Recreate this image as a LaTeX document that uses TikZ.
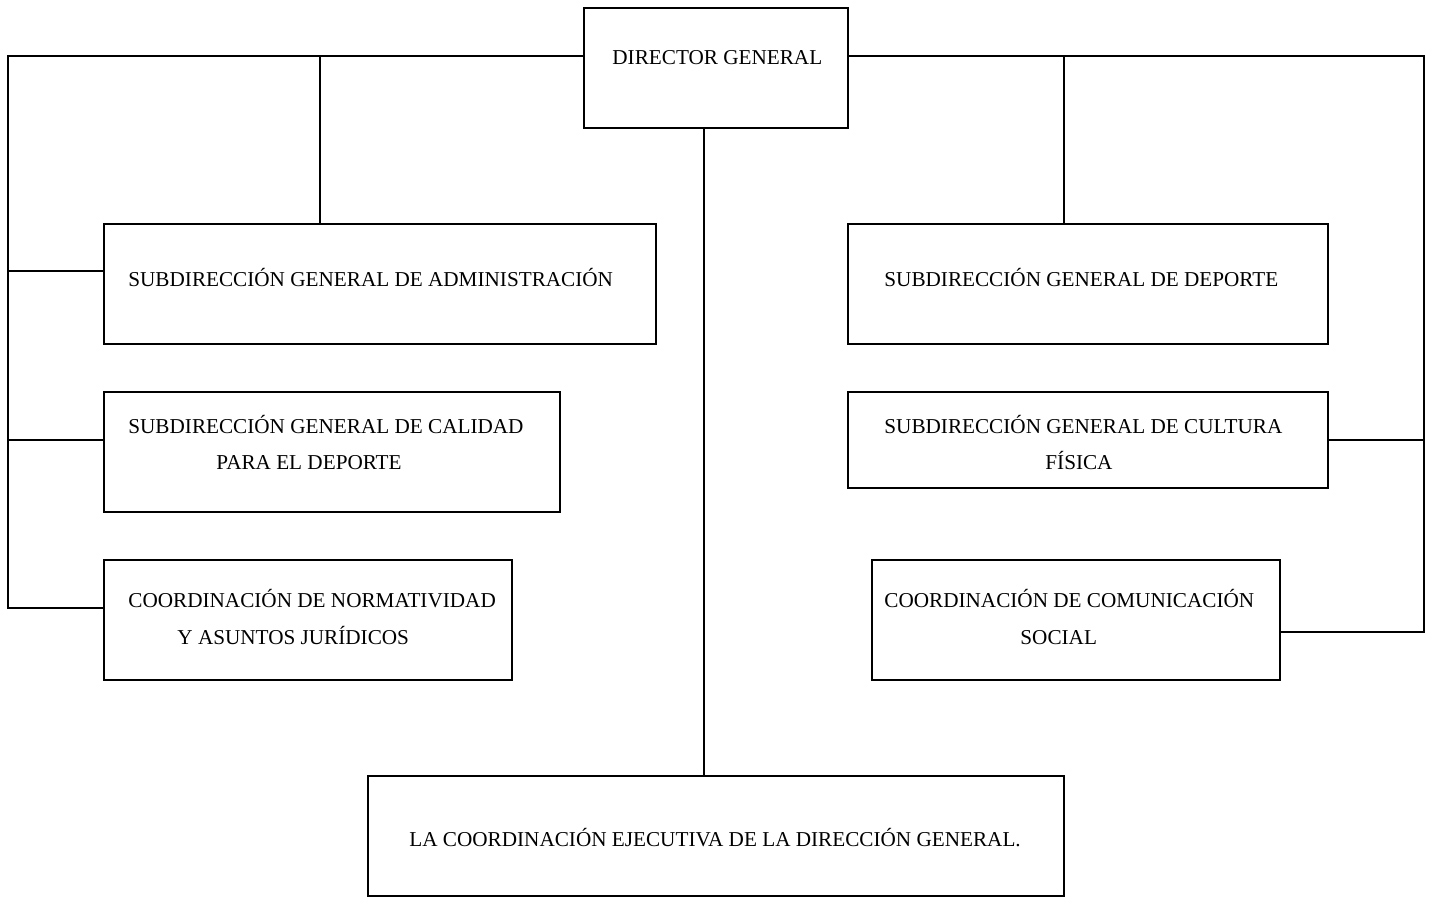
\documentclass[tikz,border=0pt]{standalone}
\usepackage{fontspec}
\setmainfont{Liberation Serif}
\begin{document}
\begin{tikzpicture}[x=0.5pt,y=-0.5pt,
  box/.style={draw,line width=1pt,rectangle,inner sep=0pt},
  lbl/.style={anchor=base west,inner sep=0pt,font=\fontsize{10.6}{12}\selectfont},
  conn/.style={line width=1pt}]
\useasboundingbox (0,0) rectangle (1430,896);
% boxes
\node[box,minimum width=132pt,minimum height=60pt] (dir) at (716,68) {};
\node[box,minimum width=276pt,minimum height=60pt] (adm) at (380,284) {};
\node[box,minimum width=228pt,minimum height=60pt] (cal) at (332,452) {};
\node[box,minimum width=204pt,minimum height=60pt] (norm) at (308,620) {};
\node[box,minimum width=240pt,minimum height=60pt] (dep) at (1088,284) {};
\node[box,minimum width=240pt,minimum height=48pt] (cul) at (1088,440) {};
\node[box,minimum width=204pt,minimum height=60pt] (com) at (1076,620) {};
\node[box,minimum width=348pt,minimum height=60pt] (ejec) at (716,836) {};
% texts
\node[lbl] (tdir) at (612,64) {DIRECTOR GENERAL};
\node[lbl] (tadm) at (128,286) {SUBDIRECCIÓN GENERAL DE ADMINISTRACIÓN};
\node[lbl] (tcal1) at (128,433) {SUBDIRECCIÓN GENERAL DE CALIDAD};
\node[lbl] (tcal2) at (216,469) {PARA EL DEPORTE};
\node[lbl] (tnorm1) at (128,607) {COORDINACIÓN DE NORMATIVIDAD};
\node[lbl] (tnorm2) at (177,644) {Y ASUNTOS JURÍDICOS};
\node[lbl] (tdep) at (884,286) {SUBDIRECCIÓN GENERAL DE DEPORTE};
\node[lbl] (tcul1) at (884,433) {SUBDIRECCIÓN GENERAL DE CULTURA};
\node[lbl] (tcul2) at (1045,469) {FÍSICA};
\node[lbl] (tcom1) at (884,607) {COORDINACIÓN DE COMUNICACIÓN};
\node[lbl] (tcom2) at (1020,644) {SOCIAL};
\node[lbl] (tejec) at (409,846) {LA COORDINACIÓN EJECUTIVA DE LA DIRECCIÓN GENERAL.};
% junction coordinates
\coordinate (tl) at (8,56);
\coordinate (la) at (8,271);
\coordinate (lc) at (8,440);
\coordinate (ln) at (8,608);
\coordinate (ta) at (320,56);
\coordinate (tr) at (1424,56);
\coordinate (rc) at (1424,440);
\coordinate (rn) at (1424,632);
\coordinate (td) at (1064,56);
\coordinate (tc) at (704,0);
% connectors
\draw[conn] (dir.west |- tl) -- (tl) -- (ln) -- (ln -| norm.west);
\draw[conn] (la) -- (la -| adm.west);
\draw[conn] (lc) -- (lc -| cal.west);
\draw[conn] (ta) -- (ta |- adm.north);
\draw[conn] (dir.east |- tr) -- (tr) -- (rn) -- (rn -| com.east);
\draw[conn] (rc) -- (rc -| cul.east);
\draw[conn] (td) -- (td |- dep.north);
\draw[conn] (tc |- dir.south) -- (tc |- ejec.north);
\end{tikzpicture}
\end{document}
